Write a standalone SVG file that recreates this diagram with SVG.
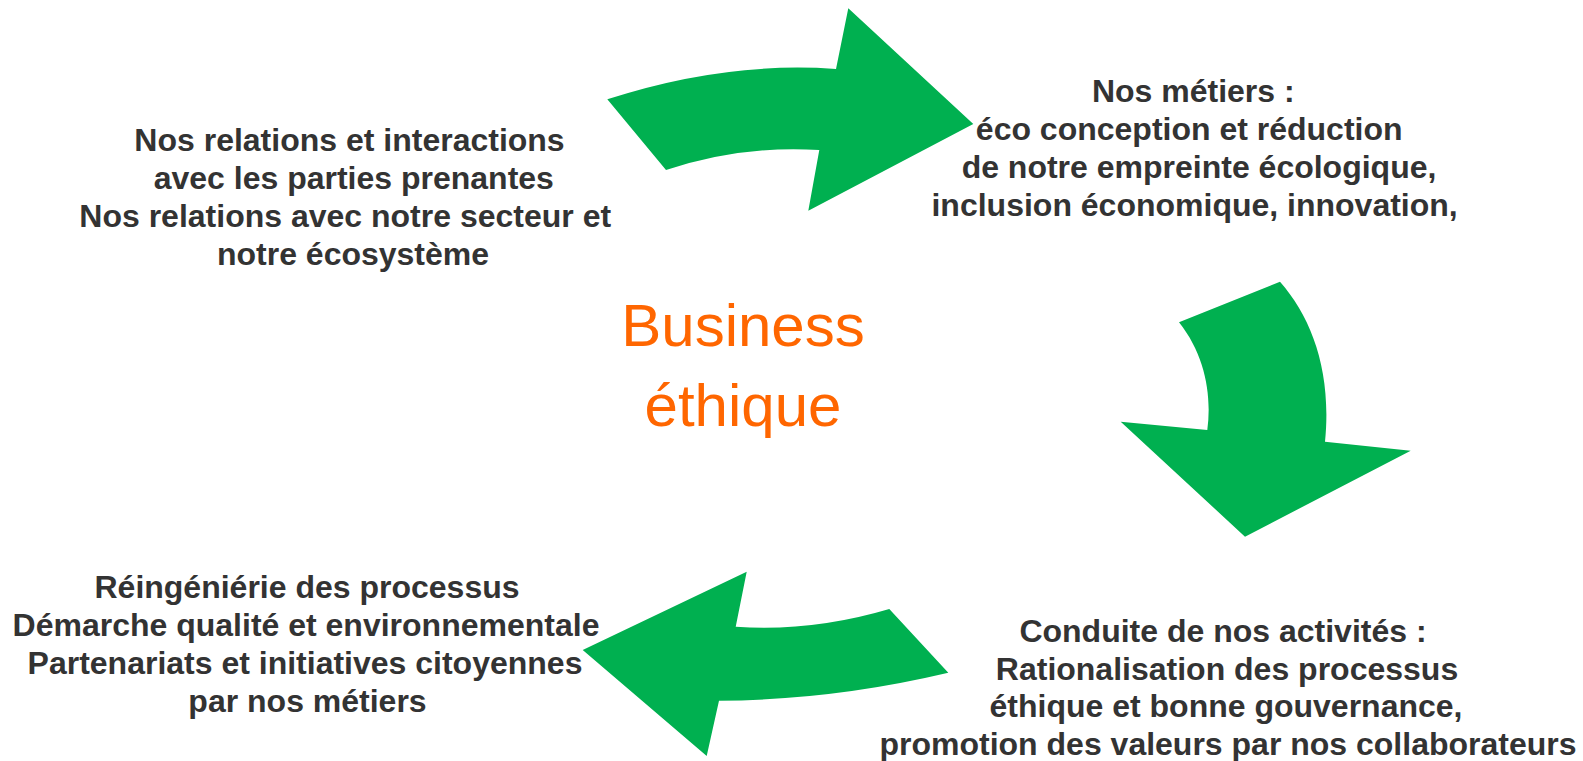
<svg xmlns="http://www.w3.org/2000/svg" width="1583" height="761" viewBox="0 0 1583 761">
  <style>
    .lbl { font-family: "Liberation Sans", Arial, sans-serif; font-weight: bold; font-size: 32px; fill: #333333; text-anchor: middle; }
    .title { font-family: "Liberation Sans", Arial, sans-serif; font-size: 60px; fill: #FF6600; text-anchor: middle; }
    .arrow { fill: #00B050; stroke: none; }
  </style>
  <rect width="1583" height="761" fill="#ffffff"/>

  <g id="connectors">
    <path class="arrow" d="M607.3,99.3 Q725,61 836,69 L848.3,8.3 L973.3,124 L808.3,210.7 L819.3,150 Q741,145 666,170 Z"/>
    <path class="arrow" d="M1179,322.3 L1280,281.7 C1312,318 1332,372 1325,441.7 L1410.7,450.7 L1245,536.7 L1120.7,421.7 L1207.3,430 C1212,395 1205,355 1179,322.3 Z"/>
    <path class="arrow" d="M582.7,650 L746.7,571.7 L735.7,626.7 Q812,632 889.3,609 L948.3,672.7 Q833,700 719,700.7 L706.7,756 Z"/>
  </g>

  <g id="center">
    <text class="title" x="743" y="346">Business</text>
    <text class="title" x="743" y="426">éthique</text>
  </g>

  <g id="node-relations">
    <text class="lbl" x="349.5" y="151">Nos relations et interactions</text>
    <text class="lbl" x="353.8" y="189">avec les parties prenantes</text>
    <text class="lbl" x="345.2" y="227">Nos relations avec notre secteur et</text>
    <text class="lbl" x="353" y="265">notre écosystème</text>
  </g>

  <g id="node-metiers">
    <text class="lbl" x="1193.3" y="102">Nos métiers :</text>
    <text class="lbl" x="1189.2" y="140">éco conception et réduction</text>
    <text class="lbl" x="1199" y="178">de notre empreinte écologique,</text>
    <text class="lbl" x="1194.6" y="216">inclusion économique, innovation,</text>
  </g>

  <g id="node-conduite">
    <text class="lbl" x="1223" y="642">Conduite de nos activités :</text>
    <text class="lbl" x="1227" y="679.5">Rationalisation des processus</text>
    <text class="lbl" x="1226" y="717">éthique et bonne gouvernance,</text>
    <text class="lbl" x="1228" y="754.5">promotion des valeurs par nos collaborateurs</text>
  </g>

  <g id="node-reingenierie">
    <text class="lbl" x="307" y="598">Réingéniérie des processus</text>
    <text class="lbl" x="306" y="636">Démarche qualité et environnementale</text>
    <text class="lbl" x="305" y="674">Partenariats et initiatives citoyennes</text>
    <text class="lbl" x="307.5" y="712">par nos métiers</text>
  </g>
</svg>
